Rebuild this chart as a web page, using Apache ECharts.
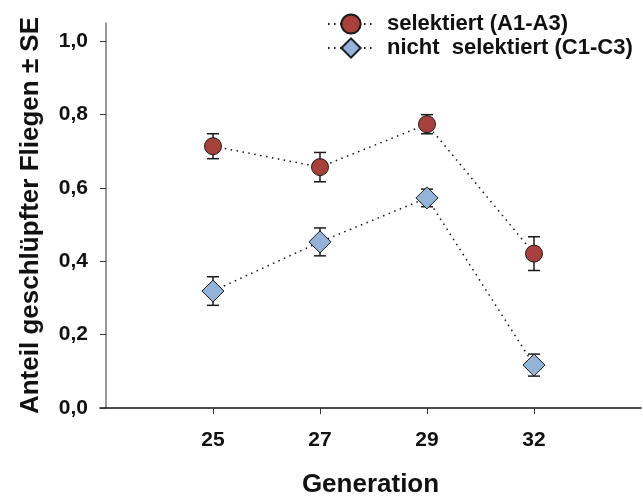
<!DOCTYPE html>
<html><head><meta charset="utf-8">
<script src="https://cdn.jsdelivr.net/npm/echarts@6/dist/echarts.min.js"></script>
<style>html,body{margin:0;padding:0;background:#fff}#c{width:643px;height:496px}</style>
</head><body><div id="c"></div>
<script>
const generations = ['25', '27', '29', '32'];
const selektiert = [0.714, 0.657, 0.774, 0.421];
const selektiertSE = [0.034, 0.040, 0.026, 0.046];
const nichtSelektiert = [0.319, 0.453, 0.573, 0.117];
const nichtSelektiertSE = [0.039, 0.038, 0.024, 0.030];
const yTicks = [0, 0.2, 0.4, 0.6, 0.8, 1.0];
const seriesNames = ['selektiert (A1-A3)', 'nicht  selektiert (C1-C3)'];

const FONT = '"Liberation Sans", Arial, Helvetica, sans-serif';
const xPos = generations.map((g, i) => i + 1);

function errSeries(vals, se) {
  return {
    type: 'custom', silent: true, z: 1,
    encode: {x: 0, y: [1, 2]},
    data: vals.map((v, i) => [xPos[i], v - se[i], v + se[i]]),
    renderItem(params, api) {
      const lo = api.coord([api.value(0), api.value(1)]);
      const hi = api.coord([api.value(0), api.value(2)]);
      const hw = 6;
      const style = {stroke: '#1a1a1a', lineWidth: 1.5};
      return {type: 'group', children: [
        {type: 'line', shape: {x1: lo[0], y1: lo[1], x2: hi[0], y2: hi[1]}, style},
        {type: 'line', shape: {x1: lo[0] - hw, y1: lo[1], x2: lo[0] + hw, y2: lo[1]}, style},
        {type: 'line', shape: {x1: hi[0] - hw, y1: hi[1], x2: hi[0] + hw, y2: hi[1]}, style}
      ]};
    }
  };
}

function lineSeries(name, vals, symbol, size, color) {
  return {
    name, type: 'line', z: 3,
    data: vals.map((v, i) => [xPos[i], v]),
    symbol, symbolSize: size,
    itemStyle: {color, borderColor: '#1a1a1a', borderWidth: 1},
    lineStyle: {color: '#111', width: 1.5, type: [1.5, 4.5]},
    emphasis: {disabled: true}
  };
}

const chart = echarts.init(document.getElementById('c'), null, {renderer: 'canvas'});
chart.setOption({
  animation: false,
  backgroundColor: '#fff',
  textStyle: {fontFamily: FONT},
  grid: {left: 100, right: 2, top: 23, bottom: 88, containLabel: false, outerBoundsMode: 'none'},
  legend: {
    orient: 'vertical', left: 322, top: 8, itemGap: 2,
    itemWidth: 46, itemHeight: 24,
    data: seriesNames,
    textStyle: {fontFamily: FONT, fontWeight: 'bold', fontSize: 22, color: '#111', padding: [0, 0, 0, 8]}
  },
  xAxis: {
    type: 'value', min: -0.056, max: 5,
    name: 'Generation', nameLocation: 'middle', nameGap: 64,
    nameTextStyle: {fontFamily: FONT, fontWeight: 'bold', fontSize: 26, color: '#111'},
    splitLine: {show: false},
    axisLine: {onZero: true, lineStyle: {color: '#111', width: 1.5}},
    axisTick: {show: true, length: 6, customValues: xPos, lineStyle: {color: '#333', width: 1}},
    axisLabel: {customValues: xPos, margin: 22, fontFamily: FONT, fontWeight: 'bold', fontSize: 21, color: '#111',
      formatter: v => generations[Math.round(v) - 1] || ''}
  },
  yAxis: {
    type: 'value', min: 0, max: 1.05,
    name: 'Anteil geschlüpfter Fliegen ± SE', nameLocation: 'middle', nameGap: 56,
    nameTextStyle: {fontFamily: FONT, fontWeight: 'bold', fontSize: 26, color: '#111'},
    splitLine: {show: false},
    axisLine: {show: true, onZero: true, lineStyle: {color: '#777', width: 1.5}},
    axisTick: {show: true, length: 6, customValues: yTicks, lineStyle: {color: '#333', width: 1}},
    axisLabel: {customValues: yTicks, margin: 12, fontFamily: FONT, fontWeight: 'bold', fontSize: 21, color: '#111',
      formatter: v => v.toFixed(1).replace('.', ',')}
  },
  series: [
    errSeries(selektiert, selektiertSE),
    errSeries(nichtSelektiert, nichtSelektiertSE),
    lineSeries(seriesNames[0], selektiert, 'circle', 17, '#a8403b'),
    lineSeries(seriesNames[1], nichtSelektiert, 'diamond', 22, '#94b3d8')
  ]
});
</script></body></html>
